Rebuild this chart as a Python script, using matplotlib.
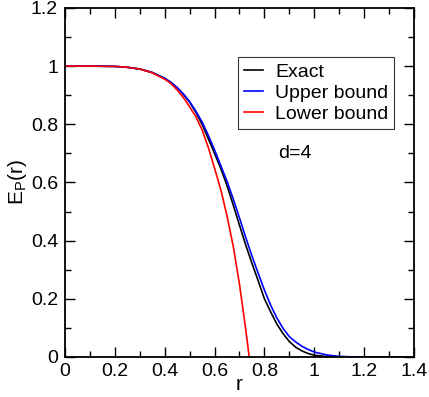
import numpy as np
import matplotlib
matplotlib.use('Agg')
import matplotlib.pyplot as plt

plt.rcParams['font.family'] = ['Liberation Sans', 'DejaVu Sans']

# Exact curve
r_exact = [0, 0.1, 0.2, 0.25, 0.3, 0.35, 0.4, 0.425, 0.45, 0.475, 0.5, 0.525, 0.55, 0.575,
           0.6, 0.625, 0.65, 0.675, 0.7, 0.725, 0.75, 0.775, 0.8, 0.825, 0.85, 0.875,
           0.9, 0.925, 0.95, 0.975, 1.0, 1.05, 1.1, 1.2, 1.4]
e_exact = [1, 1, 0.999, 0.996, 0.99, 0.978, 0.958, 0.944, 0.926, 0.903, 0.876, 0.841, 0.80, 0.75,
           0.70, 0.648, 0.589, 0.522, 0.453, 0.385, 0.322, 0.262, 0.20, 0.155, 0.113, 0.080,
           0.053, 0.034, 0.021, 0.012, 0.006, 0.0015, 0.0003, 0, 0]

# Upper bound
r_upper = [0, 0.1, 0.2, 0.25, 0.3, 0.35, 0.4, 0.425, 0.45, 0.475, 0.5, 0.525, 0.55, 0.575,
           0.6, 0.625, 0.65, 0.675, 0.7, 0.725, 0.75, 0.775, 0.8, 0.825, 0.85, 0.875,
           0.9, 0.925, 0.95, 0.975, 1.0, 1.05, 1.1, 1.15, 1.2, 1.4]
e_upper = [1, 1, 0.999, 0.996, 0.99, 0.978, 0.958, 0.944, 0.926, 0.904, 0.878, 0.845, 0.808, 0.762,
           0.712, 0.658, 0.604, 0.543, 0.478, 0.411, 0.347, 0.288, 0.230, 0.178, 0.134, 0.098,
           0.070, 0.052, 0.037, 0.026, 0.017, 0.007, 0.002, 0.0005, 0, 0]

# Lower bound (runs below zero, cut by the axis)
r_lower = [0, 0.1, 0.2, 0.25, 0.3, 0.35, 0.4, 0.425, 0.45, 0.475, 0.5, 0.525, 0.55, 0.575,
           0.6, 0.625, 0.65, 0.675, 0.7, 0.725, 0.739, 0.75]
e_lower = [1, 1, 0.999, 0.996, 0.99, 0.977, 0.955, 0.94, 0.918, 0.892, 0.86, 0.826, 0.781, 0.72,
           0.649, 0.575, 0.485, 0.38, 0.25, 0.095, 0.0, -0.075]

fig = plt.figure(figsize=(4.29, 3.97), dpi=100)
ax = fig.add_axes([0.1515, 0.1008, 0.8135, 0.8792])

ax.plot(r_exact, e_exact, color='black', lw=1.2, label='Exact')
ax.plot(r_upper, e_upper, color='blue', lw=1.2, label='Upper bound')
ax.plot(r_lower, e_lower, color='red', lw=1.2, label='Lower bound')

ax.set_xlim(0, 1.4)
ax.set_ylim(0, 1.2)
ax.set_xticks(np.arange(0, 1.41, 0.2))
ax.set_xticks(np.arange(0.1, 1.4, 0.2), minor=True)
ax.set_yticks(np.arange(0, 1.21, 0.2))
ax.set_yticks(np.arange(0.1, 1.2, 0.2), minor=True)
ax.set_xticklabels(['0', '0.2', '0.4', '0.6', '0.8', '1', '1.2', '1.4'])
ax.set_yticklabels(['0', '0.2', '0.4', '0.6', '0.8', '1', '1.2'])
ax.tick_params(which='both', direction='in', top=True, right=True, labelsize=14, width=1)
ax.tick_params(which='major', length=7)
ax.tick_params(which='minor', length=4)
ax.tick_params(axis='y', pad=5)
ax.tick_params(axis='x', pad=4)
for s in ax.spines.values():
    s.set_linewidth(1.3)

ax.set_xlabel('r', fontsize=15, labelpad=-3)
ax.set_ylabel(r'E$_\mathregular{P}$(r)', fontsize=15, labelpad=1)

ax.text(0.855, 0.70, 'd=4', fontsize=14, va='center', ha='left')

leg = ax.legend(loc='upper right', bbox_to_anchor=(0.943, 0.859), fontsize=14,
                frameon=True, fancybox=False, handlelength=1.0, handletextpad=0.6,
                borderpad=0.3, labelspacing=0.18, borderaxespad=0)
leg.get_frame().set_edgecolor('black')
leg.get_frame().set_linewidth(0.8)

fig.savefig('out.png', dpi=100)
